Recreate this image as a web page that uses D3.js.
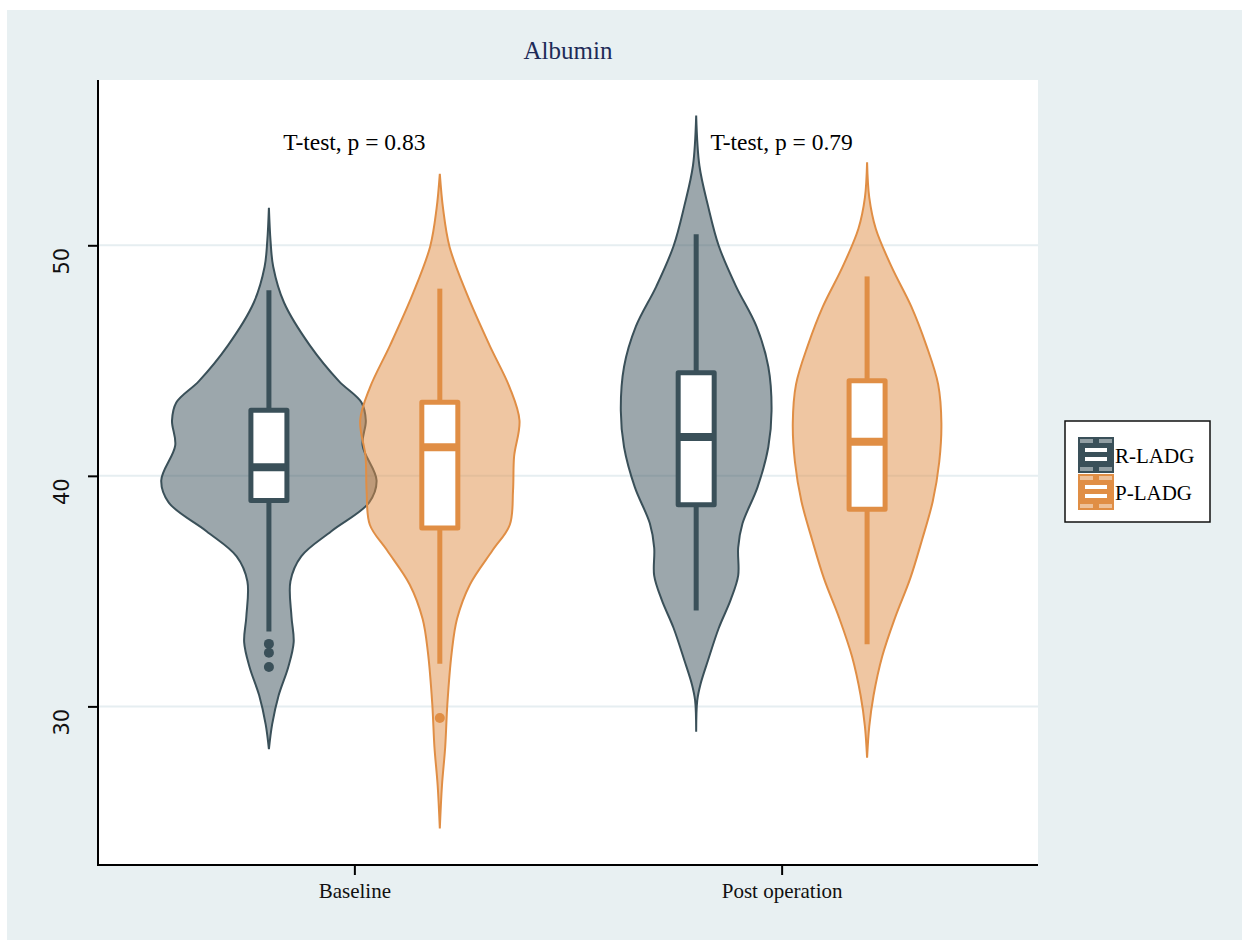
<!DOCTYPE html>
<html>
<head>
<meta charset="utf-8">
<script src="https://cdn.jsdelivr.net/npm/d3@7"></script>
<style>
  html, body { margin: 0; padding: 0; background: #ffffff; }
  svg { display: block; }
</style>
</head>
<body>
<svg id="chart" width="1242" height="940"></svg>
<script>
// Categories, groups and labels
const categories = ["Baseline", "Post operation"];
const groups = ["R-LADG", "P-LADG"];
const yTicks = [30, 40, 50];
const testLabels = ["T-test, p = 0.83", "T-test, p = 0.79"];
const chartTitle = "Albumin";

// Kernel density profiles: [albumin value, relative density]
const rBaselineDensity = [
  [51.63, 0], [50.2, 0.015], [49.07, 0.04], [47.52, 0.14], [45.66, 0.38], [44.11, 0.65],
  [43.18, 0.86], [42.4, 0.9], [41.32, 0.87], [39.8, 1.0], [38.84, 0.93], [37.6, 0.58],
  [36.51, 0.3], [35.43, 0.2], [33.88, 0.21], [32.79, 0.23], [31.71, 0.18], [30.47, 0.09],
  [29.22, 0.03], [28.14, 0]
];
const pBaselineDensity = [
  [53.1, 0], [51.6, 0.03], [49.94, 0.09], [47.9, 0.25], [45.68, 0.46], [43.82, 0.65],
  [42.4, 0.74], [40.85, 0.69], [39.37, 0.68], [37.88, 0.65], [36.77, 0.49], [35.29, 0.28],
  [33.8, 0.16], [32.32, 0.11], [30.1, 0.07], [28.24, 0.05], [26.57, 0.02], [24.71, 0]
];
const rPostDensity = [
  [55.63, 0], [53.45, 0.03], [51.71, 0.11], [49.97, 0.21], [48.22, 0.37], [46.48, 0.56],
  [44.73, 0.67], [42.82, 0.7], [41.25, 0.67], [39.51, 0.57], [37.93, 0.43], [36.89, 0.39],
  [35.67, 0.39], [34.62, 0.32], [33.4, 0.21], [32.0, 0.11], [30.96, 0.04], [30.26, 0.01],
  [28.9, 0]
];
const pPostDensity = [
  [53.6, 0], [52.08, 0.02], [50.73, 0.08], [49.04, 0.23], [47.35, 0.41], [45.66, 0.55],
  [43.97, 0.66], [42.29, 0.69], [40.6, 0.67], [38.9, 0.61], [37.22, 0.51], [35.54, 0.4],
  [33.85, 0.26], [32.16, 0.14], [30.47, 0.06], [29.12, 0.02], [27.77, 0]
];

// Box statistics: [lower whisker, Q1, median, Q3, upper whisker]
const rBaselineBox = [33.25, 38.93, 40.37, 42.85, 48.05];
const pBaselineBox = [31.85, 37.74, 41.24, 43.19, 48.12];
const rPostBox = [34.16, 38.75, 41.69, 44.47, 50.48];
const pPostBox = [32.7, 38.55, 41.48, 44.13, 48.65];

// Outlying observations
const rBaselineOutliers = [32.71, 32.33, 31.71];
const pBaselineOutliers = [29.5];
const rPostOutliers = [];
const pPostOutliers = [];

const series = [
  { category: "Baseline", group: "R-LADG", density: rBaselineDensity, box: rBaselineBox, outliers: rBaselineOutliers },
  { category: "Baseline", group: "P-LADG", density: pBaselineDensity, box: pBaselineBox, outliers: pBaselineOutliers },
  { category: "Post operation", group: "R-LADG", density: rPostDensity, box: rPostBox, outliers: rPostOutliers },
  { category: "Post operation", group: "P-LADG", density: pPostDensity, box: pPostBox, outliers: pPostOutliers }
];

const colors = { "R-LADG": "#3a5059", "P-LADG": "#e08e45" };
const serif = "'Liberation Serif', 'Times New Roman', serif";

const svg = d3.select("#chart");

// Page background
svg.append("rect").attr("x", 7).attr("y", 10).attr("width", 1235).attr("height", 930)
  .attr("fill", "#e8f0f2");

const panel = { left: 98, right: 1038, top: 80, bottom: 865 };
svg.append("rect").attr("x", panel.left).attr("y", panel.top)
  .attr("width", panel.right - panel.left).attr("height", panel.bottom - panel.top)
  .attr("fill", "#ffffff");

const x = d3.scalePoint().domain(categories).range([panel.left, panel.right]).padding(0.6);
const dodge = d3.scalePoint().domain(groups).range([-0.2 * x.step(), 0.2 * x.step()]);
const y = d3.scaleLinear().domain([23.12, 57.17]).range([panel.bottom, panel.top]);
const w = d3.scaleLinear().domain([0, 1]).range([0, 0.252 * x.step()]);
const boxHalf = 0.048 * x.step();

// Horizontal grid
svg.append("g").selectAll("line").data(yTicks).join("line")
  .attr("x1", panel.left).attr("x2", panel.right)
  .attr("y1", d => y(d)).attr("y2", d => y(d))
  .attr("stroke", "#e6eef1").attr("stroke-width", 2);

const plot = svg.append("g");

series.forEach(s => {
  const cx = x(s.category) + dodge(s.group);
  const col = colors[s.group];
  const area = d3.area()
    .y(d => y(d[0]))
    .x0(d => cx - w(d[1]))
    .x1(d => cx + w(d[1]))
    .curve(d3.curveCatmullRom.alpha(0.5));
  plot.append("path").datum(s.density)
    .attr("d", area)
    .attr("fill", col).attr("fill-opacity", 0.5)
    .attr("stroke", col).attr("stroke-width", 2);

  const [lo, q1, med, q3, hi] = s.box;
  const g = plot.append("g");
  g.append("line").attr("x1", cx).attr("x2", cx).attr("y1", y(hi)).attr("y2", y(q3))
    .attr("stroke", col).attr("stroke-width", 5);
  g.append("line").attr("x1", cx).attr("x2", cx).attr("y1", y(q1)).attr("y2", y(lo))
    .attr("stroke", col).attr("stroke-width", 5);
  g.append("rect").attr("x", cx - boxHalf + 2.5).attr("y", y(q3))
    .attr("width", 2 * boxHalf - 5).attr("height", y(q1) - y(q3))
    .attr("fill", "#ffffff").attr("stroke", col).attr("stroke-width", 5)
    .attr("stroke-linejoin", "round");
  g.append("line").attr("x1", cx - boxHalf + 2.5).attr("x2", cx + boxHalf - 2.5)
    .attr("y1", y(med)).attr("y2", y(med))
    .attr("stroke", col).attr("stroke-width", 8);
  g.selectAll("circle").data(s.outliers).join("circle")
    .attr("cx", cx).attr("cy", d => y(d)).attr("r", 5).attr("fill", col);
});

// Axes
const yAxis = d3.axisLeft(y).tickValues(yTicks).tickSize(10).tickSizeOuter(0);
const gy = svg.append("g").attr("transform", `translate(${panel.left},0)`).call(yAxis);
gy.select(".domain").attr("stroke", "#000").attr("stroke-width", 2)
  .attr("d", `M0,${panel.top}V${panel.bottom}`);
gy.selectAll(".tick line").attr("stroke", "#000").attr("stroke-width", 2);
gy.selectAll(".tick text")
  .attr("font-family", "'DejaVu Sans', sans-serif").attr("font-size", 21).attr("fill", "#111")
  .attr("text-anchor", "end")
  .attr("transform", "rotate(-90)")
  .attr("x", -2).attr("y", -36).attr("dy", "0.32em");

const xAxis = d3.axisBottom(x).tickSize(10).tickSizeOuter(0);
const gx = svg.append("g").attr("transform", `translate(0,${panel.bottom})`).call(xAxis);
gx.select(".domain").attr("stroke", "#000").attr("stroke-width", 2)
  .attr("d", `M${panel.left - 1},0H${panel.right}`);
gx.selectAll(".tick line").attr("stroke", "#000").attr("stroke-width", 2);
gx.selectAll(".tick text")
  .attr("font-family", serif).attr("font-size", 21).attr("fill", "#111")
  .attr("y", 18).attr("dy", "0.71em");

// Title
svg.append("text").attr("x", (panel.left + panel.right) / 2).attr("y", 59)
  .attr("text-anchor", "middle").attr("font-family", serif).attr("font-size", 25)
  .attr("fill", "#1e2b58").text(chartTitle);

// Test annotations
svg.append("g").selectAll("text").data(categories).join("text")
  .attr("x", d => x(d)).attr("y", 150)
  .attr("text-anchor", "middle").attr("font-family", serif).attr("font-size", 23.5)
  .attr("fill", "#000").text((d, i) => testLabels[i]);

// Legend
const legend = svg.append("g");
legend.append("rect").attr("x", 1065).attr("y", 421).attr("width", 145).attr("height", 101)
  .attr("fill", "#ffffff").attr("stroke", "#111").attr("stroke-width", 1.5);
groups.forEach((grp, i) => {
  const kx = 1078, ky = 437 + i * 37, ks = 36;
  const col = colors[grp];
  const k = legend.append("g");
  k.append("rect").attr("x", kx).attr("y", ky).attr("width", ks).attr("height", ks).attr("fill", col);
  // faint violin segments
  [[kx + 2, ky + 2], [kx + 21, ky + 2], [kx + 2, ky + ks - 6], [kx + 21, ky + ks - 6]].forEach(p => {
    k.append("rect").attr("x", p[0]).attr("y", p[1]).attr("width", 13).attr("height", 4)
      .attr("fill", "#ffffff").attr("fill-opacity", 0.45);
  });
  // box bars
  k.append("rect").attr("x", kx + 7).attr("y", ky + 11).attr("width", 22).attr("height", 4).attr("fill", "#ffffff");
  k.append("rect").attr("x", kx + 7).attr("y", ky + 20).attr("width", 22).attr("height", 4).attr("fill", "#ffffff");
  legend.append("text").attr("x", 1115).attr("y", ky + 26)
    .attr("font-family", serif).attr("font-size", 21).attr("fill", "#000").text(grp);
});
</script>
</body>
</html>
